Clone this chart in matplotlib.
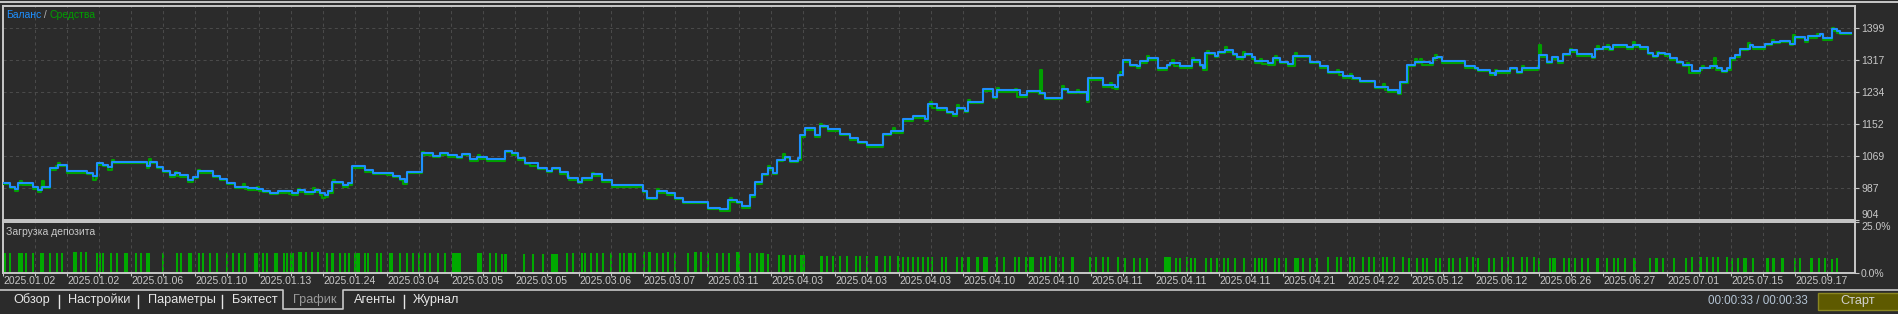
import matplotlib
matplotlib.use("Agg")
import matplotlib.pyplot as plt
from matplotlib.lines import Line2D
from matplotlib.patches import Rectangle
import numpy as np

# ---- data (x = deal number along the chart) ----
balance_pts = [
    (3, 1000), (10, 990), (15, 984), (18, 999), (33, 988), (38, 981), (42, 990), (50, 1037), (58, 1046),
    (67, 1030), (87, 1026), (93, 1017), (97, 1050), (103, 1046), (108, 1040), (112, 1054), (147, 1044),
    (150, 1054), (157, 1041), (163, 1031), (170, 1020), (175, 1024), (180, 1020), (188, 1007), (193, 1016),
    (198, 1030), (213, 1018), (220, 1010), (227, 1000), (235, 990), (248, 986), (257, 983), (263, 980),
    (270, 974), (278, 978), (292, 973), (298, 981), (305, 976), (315, 981), (320, 973), (325, 968),
    (328, 978), (332, 1003), (343, 994), (348, 999), (352, 1044), (365, 1033), (373, 1026), (387, 1024),
    (393, 1018), (400, 1010), (405, 1003), (407, 1029), (422, 1076), (433, 1070), (440, 1076), (448, 1071),
    (457, 1067), (462, 1075), (470, 1060), (477, 1066), (487, 1060), (505, 1083), (512, 1076), (518, 1063),
    (525, 1052), (538, 1039), (547, 1031), (552, 1039), (560, 1027), (568, 1011), (578, 1003), (582, 1011),
    (592, 1022), (602, 1007), (612, 994), (643, 980), (647, 962), (657, 978), (667, 973), (675, 962),
    (683, 951), (708, 936), (720, 932), (728, 956), (737, 951), (742, 940), (750, 968), (755, 1003),
    (762, 1023), (768, 1037), (773, 1026), (777, 1059), (785, 1067), (790, 1057), (798, 1063), (800, 1123),
    (805, 1140), (815, 1123), (820, 1147), (828, 1138), (840, 1126), (850, 1115), (858, 1106), (867, 1097),
    (883, 1127), (891, 1133), (903, 1164), (913, 1172), (925, 1164), (928, 1203), (937, 1192), (947, 1183),
    (953, 1177), (957, 1194), (965, 1186), (968, 1209), (983, 1241), (993, 1222), (997, 1239), (1020, 1226),
    (1027, 1237), (1040, 1232), (1045, 1219), (1062, 1243), (1068, 1235), (1087, 1213), (1088, 1269),
    (1103, 1252), (1115, 1246), (1118, 1278), (1123, 1316), (1130, 1304), (1137, 1300), (1140, 1314),
    (1148, 1321), (1158, 1295), (1167, 1304), (1170, 1310), (1180, 1300), (1192, 1316), (1200, 1304),
    (1203, 1295), (1205, 1335), (1215, 1327), (1218, 1338), (1225, 1342), (1233, 1333), (1237, 1323),
    (1245, 1333), (1252, 1323), (1255, 1314), (1268, 1308), (1273, 1321), (1280, 1312), (1288, 1306),
    (1293, 1327), (1310, 1312), (1320, 1300), (1328, 1286), (1343, 1275), (1353, 1271), (1360, 1263),
    (1375, 1248), (1388, 1239), (1398, 1232), (1400, 1261), (1407, 1304), (1415, 1312), (1430, 1308),
    (1433, 1321), (1437, 1325), (1442, 1314), (1465, 1301), (1475, 1297), (1478, 1291), (1490, 1282),
    (1495, 1278), (1496, 1288), (1510, 1297), (1517, 1286), (1522, 1295), (1539, 1329), (1547, 1312),
    (1552, 1323), (1558, 1314), (1563, 1333), (1570, 1342), (1577, 1331), (1592, 1325), (1595, 1346),
    (1603, 1350), (1610, 1346), (1613, 1355), (1627, 1350), (1633, 1355), (1640, 1350), (1648, 1335),
    (1653, 1327), (1658, 1335), (1665, 1331), (1670, 1321), (1677, 1312), (1683, 1304), (1692, 1288),
    (1700, 1295), (1710, 1300), (1717, 1295), (1722, 1289), (1727, 1295), (1730, 1321), (1735, 1329),
    (1740, 1346), (1750, 1356), (1753, 1350), (1765, 1359), (1772, 1364), (1780, 1366), (1790, 1359),
    (1795, 1377), (1805, 1368), (1808, 1378), (1820, 1384), (1823, 1372), (1832, 1396), (1837, 1390),
    (1840, 1386), (1851, 1386),
]

equity_pts = [
    (3, 996), (10, 986), (15, 980), (18, 995), (20, 1004), (22, 995), (33, 984), (38, 977), (41, 988),
    (42, 1005), (44, 986), (50, 1033), (56, 1044), (58, 1052), (60, 1042), (67, 1026), (87, 1022),
    (93, 1008), (96, 1013), (97, 1046), (103, 1042), (108, 1034), (112, 1058), (114, 1050), (147, 1038),
    (149, 1060), (151, 1050), (157, 1037), (163, 1027), (170, 1016), (175, 1028), (177, 1018), (180, 1016),
    (188, 1003), (193, 1012), (198, 1034), (200, 1026), (213, 1014), (220, 1006), (227, 996), (235, 986),
    (243, 998), (245, 984), (248, 982), (257, 988), (259, 979), (263, 976), (270, 970), (278, 974),
    (287, 980), (289, 972), (292, 969), (298, 985), (300, 977), (305, 972), (313, 986), (315, 977),
    (320, 969), (322, 962), (325, 964), (328, 974), (333, 1008), (335, 999), (343, 988), (348, 995),
    (352, 1038), (365, 1029), (373, 1022), (387, 1020), (393, 1014), (400, 1006), (403, 998), (407, 1025),
    (422, 1080), (424, 1072), (433, 1066), (440, 1072), (448, 1067), (457, 1063), (462, 1071), (470, 1056),
    (478, 1072), (480, 1062), (487, 1056), (505, 1079), (512, 1072), (518, 1059), (525, 1048), (530, 1044),
    (538, 1035), (547, 1027), (552, 1035), (560, 1023), (567, 1018), (569, 1007), (578, 999), (582, 1007),
    (592, 1026), (594, 1018), (602, 1003), (612, 990), (643, 976), (647, 958), (657, 983), (659, 974),
    (667, 969), (675, 958), (683, 947), (708, 932), (720, 928), (730, 962), (732, 950), (737, 947),
    (742, 936), (750, 964), (755, 998), (762, 1019), (768, 1043), (770, 1033), (773, 1022), (777, 1055),
    (783, 1073), (785, 1063), (790, 1053), (798, 1059), (801, 1118), (805, 1136), (815, 1119), (820, 1152),
    (822, 1143), (828, 1134), (840, 1122), (850, 1111), (858, 1102), (867, 1093), (883, 1123), (891, 1129),
    (893, 1140), (895, 1129), (903, 1160), (913, 1168), (925, 1158), (928, 1199), (930, 1208), (932, 1192),
    (937, 1188), (945, 1190), (947, 1179), (953, 1173), (957, 1200), (959, 1190), (965, 1182), (968, 1214),
    (970, 1205), (983, 1237), (993, 1218), (997, 1245), (999, 1235), (1015, 1243), (1017, 1222),
    (1027, 1233), (1039, 1228), (1040, 1292), (1042, 1228), (1045, 1215), (1062, 1250), (1064, 1239),
    (1068, 1231), (1077, 1240), (1079, 1231), (1087, 1209), (1089, 1265), (1103, 1248), (1110, 1258),
    (1112, 1244), (1115, 1242), (1118, 1274), (1120, 1285), (1123, 1312), (1130, 1300), (1137, 1296),
    (1140, 1310), (1147, 1326), (1149, 1317), (1158, 1291), (1167, 1300), (1170, 1306), (1172, 1316),
    (1174, 1302), (1180, 1296), (1192, 1322), (1194, 1312), (1200, 1300), (1203, 1291), (1207, 1340),
    (1209, 1331), (1215, 1323), (1218, 1334), (1225, 1350), (1227, 1338), (1233, 1329), (1237, 1319),
    (1243, 1338), (1245, 1329), (1252, 1319), (1255, 1310), (1260, 1320), (1262, 1306), (1268, 1304),
    (1275, 1326), (1277, 1317), (1280, 1308), (1288, 1302), (1295, 1335), (1297, 1323), (1310, 1308),
    (1320, 1296), (1328, 1282), (1337, 1292), (1339, 1279), (1343, 1271), (1350, 1280), (1352, 1267),
    (1360, 1259), (1375, 1244), (1383, 1254), (1385, 1238), (1388, 1235), (1398, 1228), (1401, 1257),
    (1408, 1300), (1415, 1318), (1417, 1308), (1420, 1318), (1422, 1304), (1433, 1317), (1435, 1330),
    (1437, 1321), (1442, 1310), (1465, 1297), (1475, 1293), (1478, 1287), (1490, 1278), (1495, 1292),
    (1497, 1284), (1510, 1293), (1517, 1282), (1522, 1300), (1524, 1291), (1538, 1301), (1539, 1355),
    (1541, 1325), (1547, 1308), (1552, 1319), (1558, 1310), (1563, 1329), (1570, 1346), (1572, 1338),
    (1577, 1327), (1592, 1321), (1595, 1342), (1597, 1352), (1599, 1346), (1607, 1355), (1609, 1342),
    (1613, 1351), (1627, 1346), (1633, 1363), (1635, 1351), (1640, 1346), (1648, 1331), (1653, 1323),
    (1657, 1338), (1659, 1331), (1665, 1327), (1670, 1317), (1677, 1308), (1683, 1300), (1687, 1308),
    (1689, 1284), (1700, 1291), (1702, 1300), (1704, 1296), (1713, 1300), (1714, 1321), (1716, 1291),
    (1722, 1285), (1727, 1291), (1731, 1317), (1735, 1325), (1740, 1342), (1748, 1360), (1750, 1352),
    (1753, 1346), (1765, 1355), (1772, 1368), (1774, 1360), (1780, 1362), (1790, 1355), (1793, 1380),
    (1795, 1373), (1805, 1364), (1808, 1374), (1817, 1384), (1820, 1380), (1823, 1368), (1832, 1399),
    (1834, 1392), (1837, 1386), (1840, 1383), (1851, 1383),
]

# deposit load bars: (deal, width in deals, load %)
deposit_load = [
    (4.5, 2, 9.9), (10.5, 2, 9.9), (20.5, 4.5, 9.9), (26, 1.5, 9.9), (33, 2, 9.9), (42.5, 4, 9.9),
    (50, 1.5, 9.9), (57, 1.5, 9.9), (62, 1.5, 9.9), (75.5, 4, 10.1), (81, 1.5, 10.2), (86, 1.5, 10.1),
    (97, 1.5, 9.8), (100, 1.5, 9.8), (103, 1.5, 9.8), (111, 1.5, 9.8), (117, 1.5, 9.8), (126.5, 4, 9.8),
    (136, 1.5, 9.8), (141, 1.5, 9.8), (148.5, 4, 9.8), (163, 1.5, 9.8), (177, 1.5, 9.8), (181, 1.5, 10.0),
    (190.5, 4, 10.0), (199, 1.5, 9.8), (203, 1.5, 9.8), (210, 1.5, 9.8), (217, 1.5, 9.8), (227, 1.5, 9.8),
    (233, 1.5, 9.8), (239, 1.5, 9.8), (245, 1.5, 9.8), (256.5, 4, 9.9), (263, 1.5, 9.9), (267, 1.5, 9.9),
    (276.5, 4, 9.9), (284, 1.5, 9.9), (287, 1.5, 9.9), (291, 1.5, 9.9), (293, 1.5, 9.9), (299, 1.5, 10.3),
    (301, 1.5, 10.4), (306, 1.5, 10.1), (312, 1.5, 10.2), (318, 1.5, 10.4), (327, 1.5, 9.9), (333, 3, 9.9),
    (340, 1.5, 9.9), (345, 1.5, 9.9), (349, 1.5, 9.9), (355, 1.5, 9.9), (358.5, 4, 9.9), (365, 1.5, 9.9),
    (368, 1.5, 9.9), (377, 1.5, 9.9), (381, 1.5, 10.0), (390, 1.5, 9.9), (392, 1.5, 9.9), (400, 1.5, 9.9),
    (407, 1.5, 9.9), (413, 1.5, 9.9), (419, 1.5, 9.9), (425, 1.5, 9.9), (430, 1.5, 9.9), (438, 1.5, 9.9),
    (445, 1.5, 9.9), (457, 9, 9.9), (480, 5, 9.9), (490, 1.5, 9.9), (496, 1.5, 9.9),
    (502, 1.5, 9.3), (506, 3, 9.3), (524, 1.5, 9.3), (533, 1.5, 9.3), (543, 1.5, 9.3), (555, 7, 9.5),
    (567, 1.5, 9.6), (573, 1.5, 9.6), (582, 1.5, 9.6), (585, 1.5, 9.6), (591, 1.5, 9.6), (597, 1.5, 9.6),
    (603, 1.5, 9.6), (611, 1.5, 9.6), (620, 1.5, 9.6), (624, 1.5, 9.6), (630, 4, 9.6), (635, 1.5, 9.6),
    (644, 1.5, 10.3), (650, 3, 10.3), (657, 1.5, 10.0), (663, 1.5, 10.0), (668, 1.5, 10.3), (675, 1.5, 10.0),
    (688, 1.5, 10.0), (696, 3, 10.2), (701, 1.5, 10.2), (708, 1.5, 10.0), (717, 1.5, 10.0), (723, 1.5, 10.0),
    (729, 1.5, 10.0), (737, 1.5, 10.2), (739, 1.5, 10.2), (750, 1.5, 9.7), (757, 1.5, 9.7), (762.5, 4, 9.7),
    (768, 1.5, 9.2), (779, 1.5, 8.6), (784, 3, 8.6), (790, 1.5, 8.6), (795, 1.5, 8.6), (803, 5, 8.6),
    (822, 3, 8.2), (827, 1.5, 8.2), (833, 1.5, 8.2), (840, 1.5, 8.2), (847, 1.5, 8.2), (856, 1.5, 8.2),
    (860, 1.5, 8.2), (867, 1.5, 8.2), (877, 3, 8.2), (885, 1.5, 8.2), (890, 1.5, 8.2), (898, 1.5, 8.2),
    (903, 1.5, 8.0), (908, 1.5, 8.0), (913, 1.5, 8.0), (918, 1.5, 8.0), (923, 1.5, 8.0), (928, 1.5, 8.0),
    (932, 1.5, 8.0), (942, 1.5, 8.0), (946, 1.5, 8.0), (957, 1.5, 8.0), (962, 1.5, 8.0), (969, 3, 8.0),
    (978, 3, 8.0), (986, 5, 8.0), (997, 1.5, 8.0),
    (1004, 1.5, 7.7), (1015, 1.5, 7.7), (1019, 1.5, 7.7), (1026, 1.5, 7.7), (1032, 5, 7.7), (1041, 1.5, 7.7),
    (1045, 1.5, 7.7), (1050, 1.5, 8.2), (1056, 1.5, 7.7), (1063, 1.5, 7.7), (1073, 3, 7.7), (1090, 1.5, 7.7),
    (1096, 1.5, 7.7), (1103, 1.5, 7.7), (1108, 1.5, 7.7), (1118, 1.5, 7.7), (1125, 1.5, 7.3), (1134, 1.5, 7.3),
    (1140, 1.5, 7.3), (1147, 1.5, 7.3), (1168, 7, 7.7), (1176, 1.5, 7.5), (1180, 1.5, 7.5), (1187, 1.5, 7.7),
    (1191, 1.5, 7.5), (1195, 1.5, 7.5), (1206, 1.5, 7.5), (1211, 1.5, 7.5), (1217, 1.5, 7.5), (1224, 1.5, 7.5),
    (1228, 1.5, 7.5), (1235, 1.5, 7.5), (1244, 1.5, 7.5), (1255, 1.5, 7.5), (1259, 1.5, 7.5), (1262, 1.5, 7.5),
    (1266, 1.5, 7.5), (1275, 1.5, 7.5), (1279, 1.5, 7.5), (1286, 1.5, 7.5), (1297, 5, 7.5), (1303, 1.5, 7.5),
    (1310, 1.5, 7.5), (1317, 1.5, 7.5), (1328, 1.5, 7.7), (1337, 1.5, 7.7), (1341, 1.5, 7.7), (1350, 1.5, 7.7),
    (1354, 1.5, 7.7), (1363, 1.5, 7.7), (1369, 1.5, 7.7), (1374, 1.5, 7.7), (1383, 1.5, 7.7), (1387, 1.5, 7.7),
    (1394, 1.5, 7.7), (1403, 1.5, 7.7), (1409, 1.5, 7.5), (1417, 1.5, 7.5), (1423, 1.5, 7.5), (1427, 1.5, 7.5),
    (1436, 1.5, 7.5), (1440, 1.5, 7.5), (1449, 1.5, 7.5), (1453, 1.5, 7.5), (1460, 1.5, 7.5), (1467, 1.5, 7.7),
    (1473, 1.5, 7.7), (1478, 1.5, 7.5), (1489, 1.5, 7.5), (1494, 1.5, 7.5),
    (1502, 1.5, 7.7), (1508, 1.5, 7.7), (1513, 1.5, 7.7), (1522, 1.5, 7.7), (1527, 1.5, 7.7), (1534, 1.5, 7.7),
    (1539, 1.5, 7.5), (1550, 1.5, 7.5), (1554.5, 4, 7.5), (1564, 1.5, 7.5), (1569, 1.5, 7.5), (1575, 1.5, 7.5),
    (1582, 1.5, 7.5), (1588, 1.5, 7.5), (1598, 3, 7.5), (1607, 1.5, 7.5), (1614, 1.5, 7.5), (1618, 1.5, 7.5),
    (1625, 1.5, 7.5), (1635, 3, 7.5), (1650, 1.5, 7.5), (1657, 3, 7.5), (1663, 1.5, 7.5), (1674, 1.5, 7.5),
    (1686, 1.5, 7.5), (1692, 1.5, 7.7), (1701, 3, 7.7), (1707, 1.5, 7.7), (1713, 1.5, 7.7), (1718, 1.5, 7.7),
    (1727, 1.5, 7.7), (1732, 1.5, 7.5), (1738, 1.5, 7.5), (1745.5, 4, 7.5), (1753, 1.5, 7.5), (1768, 3, 7.5),
    (1774, 3, 7.5), (1783, 3, 7.5), (1795, 1.5, 7.5), (1800, 1.5, 7.5), (1812, 3, 7.5), (1819, 1.5, 7.5),
    (1825, 1.5, 7.5), (1832, 1.5, 7.0), (1837, 1.5, 7.3),
]

deal_x, balance = map(np.array, zip(*balance_pts))
equity_x, equity = map(np.array, zip(*equity_pts))
load_x, load_w, load_pct = map(np.array, zip(*deposit_load))

y_ticks = [904, 986.5, 1069, 1151.5, 1234, 1316.5, 1399]
y_labels = ["904", "987", "1069", "1152", "1234", "1317", "1399"]
date_labels = [
    "2025.01.02", "2025.01.02", "2025.01.06", "2025.01.10", "2025.01.13", "2025.01.24",
    "2025.03.04", "2025.03.05", "2025.03.05", "2025.03.06", "2025.03.07", "2025.03.11",
    "2025.04.03", "2025.04.03", "2025.04.03", "2025.04.10", "2025.04.10", "2025.04.11",
    "2025.04.11", "2025.04.11", "2025.04.21", "2025.04.22", "2025.05.12", "2025.06.12",
    "2025.06.26", "2025.06.27", "2025.07.01", "2025.07.15", "2025.09.17",
]
tabs = ["Обзор", "Настройки", "Параметры", "Бэктест", "График", "Агенты", "Журнал"]

# ---- styling ----
plt.rcParams['font.family'] = ['Liberation Sans', 'DejaVu Sans']
BG = "#2b2b2b"
FRAME = "#c8c8c8"
GRID = "#4a4a4a"
TXT = "#c8c8c8"
BLUE = "#1e90ff"
GREEN = "#00a000"
BAR = "#00aa00"
FS = 7.5      # axis / caption text
FS_TAB = 9.2  # tab strip text

W, H = 1899, 314


def fx(x):
    return x / W


def fy(y):
    return 1 - y / H


fig = plt.figure(figsize=(W / 100, H / 100), dpi=100, facecolor=BG)

# main balance / equity panel
ax = fig.add_axes([fx(2.5), fy(220), (1855.5 - 2.5) / W, (220 - 6) / H], facecolor=BG, zorder=1)
ax.plot(equity_x, equity, drawstyle="steps-post", color=GREEN, lw=1.5, zorder=3)
ax.plot(deal_x, balance, drawstyle="steps-post", color=BLUE, lw=1.5, zorder=4)
ax.set_xlim(2.5, 1855.5)
ax.set_ylim(904, 904 + 214 * 82.5 / 32)
ax.set_yticks(y_ticks)
ax.set_yticklabels(y_labels)
ax.yaxis.tick_right()
ax.get_yticklabels()[0].set_va("bottom")   # "904" sits just above the load panel
ax.set_xticks(np.arange(3, 1855, 64))
ax.set_xticks(np.arange(35, 1855, 64), minor=True)
ax.tick_params(axis="x", which="both", length=0, labelbottom=False)
ax.tick_params(axis="y", colors=TXT, labelcolor=TXT, labelsize=FS, length=3, width=0.8, pad=1)
ax.grid(True, axis="x", which="both", color=GRID, linestyle=(0, (3, 3)), linewidth=0.75)
ax.grid(True, axis="y", which="major", color=GRID, linestyle=(0, (3, 3)), linewidth=0.75)
for s in ax.spines.values():
    s.set_color(FRAME)
    s.set_linewidth(1.4)

# deposit load panel
ax2 = fig.add_axes([fx(2.5), fy(273), (1855.5 - 2.5) / W, (273 - 222) / H], facecolor=BG, zorder=3)
ax2.bar(load_x, load_pct, width=load_w, color=BAR, linewidth=0)
ax2.set_xlim(2.5, 1855.5)
ax2.set_ylim(0, 25)
ax2.set_yticks([0, 25])
ax2.set_yticklabels(["0.0%", "25.0%"])
ax2.yaxis.tick_right()
ax2.get_yticklabels()[1].set_va("top")
ax2.set_xticks(np.arange(3, 1855, 64))
ax2.set_xticklabels(date_labels, ha="left")
ax2.set_xticks(np.arange(35, 1855, 64), minor=True)
ax2.tick_params(axis="x", which="both", colors=TXT, labelcolor=TXT, labelsize=FS, length=2, width=0.8, pad=0.5)
ax2.tick_params(axis="y", colors=TXT, labelcolor=TXT, labelsize=FS, length=3, width=0.8, pad=1)
ax2.grid(True, axis="x", which="both", color=GRID, linestyle=(0, (3, 3)), linewidth=0.75)
for s in ax2.spines.values():
    s.set_color(FRAME)
    s.set_linewidth(1.4)

# captions inside the panels: "Баланс / Средства" set one piece after the other
fig.canvas.draw()
renderer = fig.canvas.get_renderer()
x_px = 6
for part, col in [("Баланс", BLUE), (" / ", "#b0b0b0"), ("Средства", GREEN)]:
    t = fig.text(fx(x_px), fy(15), part, color=col, fontsize=FS, va="center")
    x_px += t.get_window_extent(renderer).width
fig.text(fx(6), fy(232), "Загрузка депозита", color=TXT, fontsize=FS, va="center", zorder=5)

# window chrome: top rule, tab strip, timer, start button
fig.add_artist(Line2D([0, 1], [fy(1.5), fy(1.5)], color=FRAME, lw=1.4))
fig.add_artist(Line2D([0, fx(283), fx(283), fx(343), fx(343), 1],
                      [fy(290), fy(290), fy(309), fy(309), fy(290), fy(290)], color=FRAME, lw=1.2))
tab_x = [13, 68, 148, 232, 293, 354, 413]
for name, x in zip(tabs, tab_x):
    col = "#9a9a9a" if name == "График" else "#e6e6e6"
    fig.text(fx(x), fy(300), name, color=col, fontsize=FS_TAB, va="center")
for x in [59, 138, 222, 404]:
    fig.add_artist(Line2D([fx(x), fx(x)], [fy(295), fy(308)], color="#e6e6e6", lw=1.0))

fig.text(fx(1808), fy(301), "00:00:33 / 00:00:33", color="#b4c4d4", fontsize=8.4, va="center", ha="right")
fig.add_artist(Rectangle((fx(1818), fy(310)), (1900 - 1818) / W, 17 / H, transform=fig.transFigure,
                         facecolor="#5e5a00", edgecolor="#8a8620", lw=1.0))
fig.text(fx(1858), fy(301), "Старт", color="#d0d0d0", fontsize=FS_TAB, va="center", ha="center")

fig.savefig("out.png", dpi=100, facecolor=BG)
